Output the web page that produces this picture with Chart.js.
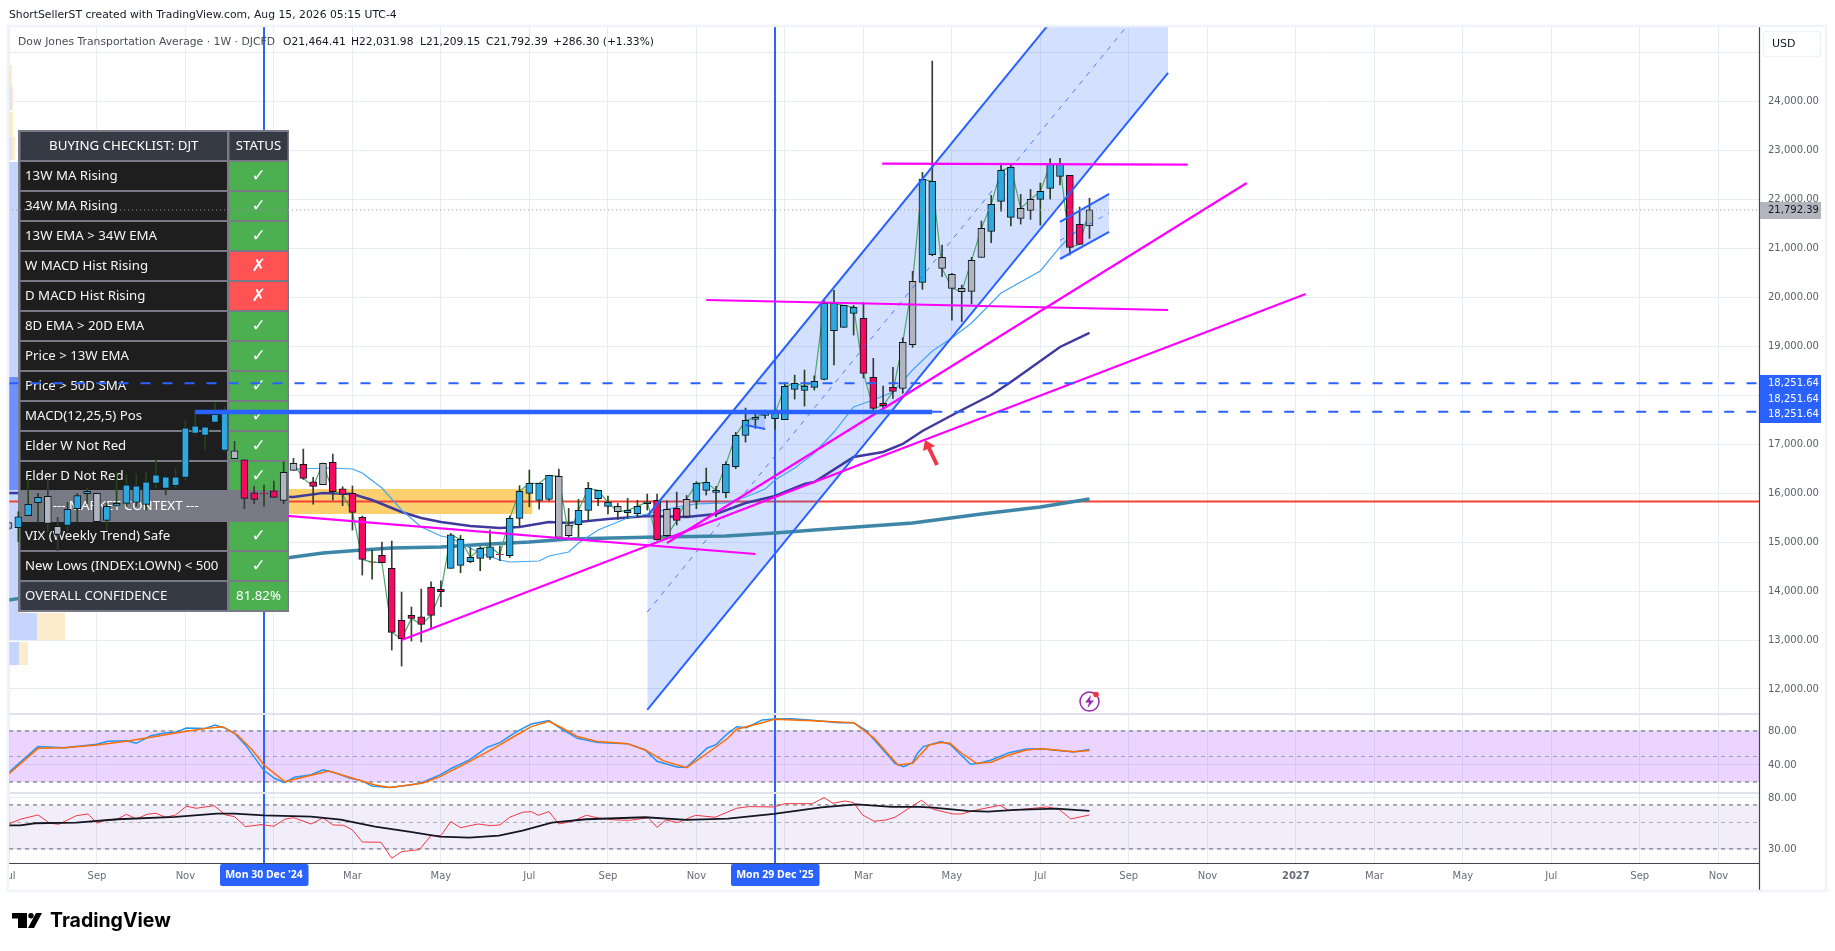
<!DOCTYPE html>
<html><head><meta charset="utf-8">
<style>html,body{margin:0;padding:0;background:#fff;overflow:hidden}canvas{display:block}</style>
<script src="https://cdn.jsdelivr.net/npm/chart.js@4"></script></head>
<body><canvas id="c" width="1835" height="951"></canvas>
<script>
// ---- weekly candles: week number counted from Mon 30 Dec 2024 ----
const firstWeek=-26;
const kinds=["G","BBB","GG","BBB","G","BBBBBBBBBBBBB","G","RR","D","R","GG","RR","G","RRRR","D","RRRRRRR","BBBBB","D","BBBBB","GG","BBBB","G","BBB","R","G","R","G","BBBBBBBBBBBBBBBBB","RRRR","GG","BB","GGGGG","BBB","GG","BBB","RR","G"].join('');
const opens=[15283,15297,15542,15808,15385,15324,15344,15685,15992,15419,15446,15753,15794,15814,15773,16203,16101,16155,16325,17225,17184,17450,16877,16870,16686,16012,15998,16053,15855,16468,16591,16236,16175,16632,16093,15998,15507,14601,14731,14465,13402,13504,13477,14077,14036,14465,14526,14601,14669,14690,14744,14724,15487,15998,15855,15875,15099,15351,15358,15651,15889,15732,15732,15603,15583,15787,15855,15671,15692,15528,15835,16060,16019,16012,16543,17184,17511,17592,17524,17504,18124,18103,18165,18329,19323,19391,19678,19575,18370,17838,18165,18145,19037,20311,20877,20822,20475,20189,20127,20822,21354,21967,21640,21619,21783,22008,22232,22478,22498,21497,21464];
const closes=[15399,15521,15773,15917,15937,15160,15671,15951,16039,15998,15733,15794,16175,16155,16237,16380,16339,16339,17340,17381,17361,17613,17633,16707,15896,15876,15992,15917,16428,16612,16304,16141,16611,16032,15977,15610,14649,14594,14581,13157,13027,13443,13320,13504,13988,15153,15058,14690,14874,14908,14751,15487,16039,16202,16202,16366,16345,15133,15651,16100,16060,15814,15623,15651,15732,15828,15051,15133,15446,15876,16203,16223,16060,16591,17184,17490,17552,17633,17633,18185,18246,18185,18287,19882,19882,19841,19800,18451,17736,17790,18083,19085,20332,22416,22376,20597,20189,20120,20761,21415,21905,22600,22662,21824,22008,22171,22723,22723,21027,21088,21792];
const highs=[15420,15624,16291,15998,16291,15508,15814,15998,16100,15998,15794,16421,16373,16393,16441,16680,16339,16509,17497,17702,17361,17838,17770,17061,16686,16148,16169,16250,16639,16714,16904,16325,16611,16802,16134,16148,15535,14840,15003,15024,13981,13675,14043,14192,14213,15180,15139,14887,14908,15249,14921,15535,16155,16475,16202,16366,16495,15692,15876,16223,16060,15944,15794,15896,15855,15985,15985,15848,16025,15957,16237,16516,16141,16645,17245,17742,17661,17701,17701,18260,18417,18519,18400,19937,20148,19841,19841,19902,18758,18192,18574,19180,20536,22559,24835,21074,20495,20257,20822,21565,22089,22743,22743,22110,22212,22341,22839,22846,22498,21851,22032];
const lows=[15250,15010,15542,15406,15215,14827,15215,15419,15794,15419,15249,15739,15739,15739,15658,16121,15971,16114,16271,17191,16898,17450,16850,16707,15685,15787,15739,15917,15787,16468,16284,15780,16175,15862,15746,15249,14329,14247,14581,12796,12469,12980,12959,13218,13682,14465,14376,14581,14417,14649,14622,14690,15330,15725,15678,15848,15078,15112,15112,15453,15746,15576,15467,15487,15508,15657,15044,15112,15351,15521,15685,15964,15521,15910,16502,17047,17327,17531,17306,17504,17926,17783,18110,18315,18622,19391,19235,18356,17634,17634,17940,18043,18983,20168,20856,20427,19541,19507,19868,20822,21122,21769,21463,21503,21599,21483,22014,22301,20870,21088,21209];
const greyWickWeeks=[68];

// ---- moving averages: [week, value] vertices ----
const ma13=[[3,16497],[7,16517],[9,16497],[10,16415],[12,16108],[14,15659],[16,15311],[18,15127],[19,15087],[20,14985],[22,14780],[24,14637],[25,14596],[28,14616],[29,14718],[31,14800],[32,14985],[34,15250],[35,15332],[37,15495],[39,15577],[42,15720],[44,15782],[47,15802],[49,15925],[51,16088],[52,16272],[54,16517],[56,16824],[58,17253],[60,17764],[62,17907],[64,18071],[66,18520],[68,18909],[70,19175],[72,19481],[74,19890],[75,20094],[79,20544],[81,21035],[82,21239],[84,21586]];
const ma34=[[-26,16006],[3,15925],[6,16006],[9,15986],[11,15863],[14,15618],[16,15495],[18,15414],[21,15332],[24,15291],[26,15311],[29,15414],[31,15393],[35,15475],[39,15536],[43,15516],[46,15577],[49,15802],[52,15945],[55,16190],[56,16231],[60,16742],[63,16844],[65,17008],[67,17274],[71,17703],[74,18009],[76,18275],[81,18991],[84,19277]];
const ma200=[[-26,13819],[3,14698],[6,14780],[10,14841],[13,14882],[18,14902],[23,14964],[27,15005],[31,15066],[40,15107],[47,15127],[52,15189],[56,15250],[66,15393],[73,15577],[79,15720],[84,15884]];

// ---- oscillators ----
const stochK=[[-26,31],[-23,61.6],[-20.3,60.4],[-17,64.3],[-15.9,67.9],[-14,68.6],[-13,65.5],[-11.5,74.5],[-10.1,77.7],[-9,78.4],[-7.9,83.5],[-6,82.8],[-5,87.1],[-3.9,83.1],[-3,77.3],[-1.9,63.6],[0,33.4],[1.1,24],[2.1,19.3],[3.1,25.5],[4.8,28.6],[6,34.2],[7.2,31],[8.7,24.7],[9.9,21.6],[11,15.3],[12.8,13.4],[14.9,16.5],[16.1,19.3],[17.9,28.3],[19.1,36.1],[20.9,45.9],[22.7,60.8],[24,66.3],[25.7,79.2],[27.2,88.2],[29,92.2],[30.4,81.2],[31.9,71.4],[34,66.3],[37,65.1],[38.8,57.7],[40,44.3],[42.1,37.3],[43,37.3],[45.1,60],[46,64],[47.2,77.3],[48.1,85.1],[49.1,83.9],[50.7,93],[51.9,94.1],[53.7,94.5],[55.8,92.6],[58.5,89.8],[60,89.8],[61.2,81.2],[62.7,61.6],[64.2,42],[65.1,38.1],[66,42.8],[66.5,53.8],[67.1,61.6],[68.9,67.5],[69.8,64.3],[71.9,40.8],[72.8,42],[74,45.9],[75.8,54.5],[77.6,58.8],[79.1,59.2],[80.6,57.3],[82.4,55.3],[84,58.1]];
const stochD=[[-26,29],[-23,59.6],[-20.3,60.4],[-17,63.5],[-14,67.9],[-11.5,72.6],[-9,77.7],[-6,82.8],[-4.2,85.1],[-2.7,75.3],[-1.2,57.7],[0,40],[2.1,20.4],[4.8,27.9],[6.6,33],[8.7,25.5],[11.3,16.5],[12.8,13.4],[16.1,18.5],[17.9,26.3],[20.9,44],[24,63.6],[25.7,75.3],[27.2,85.1],[29,91.4],[30.4,83.2],[31.9,73.4],[34,67.5],[37,65.1],[38.8,57.7],[40.6,45.1],[43,36.9],[45.1,53.8],[47.2,71.4],[48.1,82],[50.7,89.8],[51.9,93.7],[55.8,92.2],[60,89.8],[62.1,71.4],[64.5,40],[66,42],[67.7,63.6],[68.9,66.3],[69.8,65.5],[71,53.8],[72.5,42],[74,43.2],[75.8,51.8],[77.6,57.7],[79.1,59.2],[82.4,55.7],[84,56.9]];
const mfi=[[-26,48.5],[-24.8,53.1],[-23,57.7],[-21.8,49.2],[-20.9,48.2],[-19.1,56.9],[-17.9,58.8],[-17,49.2],[-16.1,52.4],[-15.1,52.4],[-14,58.4],[-13,53.4],[-11.9,58.4],[-11,59.6],[-10,55.2],[-9,57.7],[-7.9,68.2],[-6.9,65.6],[-5.1,69],[-3.9,57.7],[-3,55.9],[-1.9,46.1],[-0.3,47.9],[1,46.4],[2.1,53.1],[3,54.8],[4.8,48.5],[6,54.5],[7,47.6],[8.1,47.3],[9,43.2],[10,34.3],[11.9,34.1],[13,25.1],[14,28.5],[15.8,29.6],[17,38.8],[18,38.8],[19,50.8],[20,45.2],[21.8,48.5],[23,47],[24,47.6],[25,55.2],[26.3,60.7],[27.2,61.5],[27.9,57.3],[29,61.5],[30,48.5],[31.3,50.8],[32.8,57.3],[34,54.5],[35.8,52.4],[37.3,52.1],[39.1,54.8],[40,45.5],[40.9,52.4],[42.1,49.8],[43.9,57.3],[45.9,55.2],[48.1,65.6],[49.3,67.7],[51.9,67.3],[53,71.7],[55.8,71.7],[57,80.5],[57.9,72.2],[59.1,75.5],[60,73.1],[60.9,57.7],[62.1,51.1],[63.3,52.4],[64.2,55.2],[66.9,76.5],[68.1,64.3],[70.1,58.8],[71,58.8],[72.2,62.7],[74.9,69.5],[75.8,62.7],[79.7,67.3],[80.9,64.3],[82.1,53.4],[84,57.7]];
const mfiAvg=[[-26,47.3],[-24.8,47.3],[-23.3,49.2],[-19.1,49.8],[-14.9,53.1],[-9,55.5],[-4.8,59.2],[-3,59.2],[0,57.3],[4.8,55.9],[7.8,52.7],[11.3,46.1],[14.9,41.6],[17.9,38],[20.9,37.3],[23.9,38.8],[26.3,42.7],[29.3,49.8],[32.8,53.1],[38.8,55.2],[43,52.4],[47.2,53.8],[51.9,58.8],[56.7,66.8],[60.3,70.8],[63.9,67.3],[66.7,67.3],[68.1,66.4],[71.6,62.3],[73.7,61.5],[76.4,63.5],[80.6,65.2],[84,62.3]];

// ---- drawing tools: end points as [week, price] ----
const channelTop=[[39,15536],[92,28577]];
const channelBottom=[[39,11571],[92,24591]];
const channelMid=[[39,13574],[92,26574]];
const smallTop=[[81,21546],[86,22118]];
const smallBottom=[[81,20789],[86,21341]];
const smallMid=[[81,21168],[86,21730]];
const tinyTop=[[49,17662],[51,17621]];
const tinyBottom=[[49,17396],[51,17315]];
const trendA=[[62.9,22737],[94,22717]];
const trendB=[[45,19951],[92,19747]];
const trendC=[[14,13002],[106,20074]];
const trendD=[[41,14984],[100,22343]];
const trendE=[[2.4,15540],[50,14759]];
const heavyLevel=[[-7,17680],[68,17680]];
const heavyLevel2=[[-7,17640],[68,17640]];
const level1=[[-26,18251.64],[152.2,18251.64]];
const level2=[[68,17668],[152.2,17668]];
const lastClose=21792.39, supportLevel=15833;
const zoneBox={from:-10,to:27.3,top:16088,bottom:15577};
const crosshairWeeks=[0,52], crosshairLabels=["Mon 30 Dec '24","Mon 29 Dec '25"];
const priceLabels=["18,251.64","18,251.64","18,251.64"];
// volume profile rows: top price, bottom price, blue px, beige px
const profile=[[24755,24305,1,2],[24305,23835,3,1],[23794,23283,1,3],[23283,22813,3,3],[22772,21382,9,2],[21382,19951,9,6],[19951,18377,9,9],[18377,16068,9,9],[16068,13553,9,9],[13553,13002,28,28],[12961,12491,10,9]];

// ---- axes ----
const priceTicks=[25000,24000,23000,22000,21000,20000,19000,18000,17000,16000,15000,14000,13000,12000];
const stochTicks=[40,80], mfiTicks=[30,80];
const xTickWeeks=[-25.9,-17,-8,1,9,18,27,35,44,53,61,70,79,88,96,105,113,122,131,140,148];
const xTickLabels=["Jul","Sep","Nov","","Mar","May","Jul","Sep","Nov","","Mar","May","Jul","Sep","Nov","2027","Mar","May","Jul","Sep","Nov"];

// ---- checklist ----
const tableHead=["BUYING CHECKLIST: DJT","STATUS"];
const rowNames=["13W MA Rising","34W MA Rising","13W EMA > 34W EMA","W MACD Hist Rising","D MACD Hist Rising","8D EMA > 20D EMA","Price > 13W EMA","Price > 50D SMA","MACD(12,25,5) Pos","Elder W Not Red","Elder D Not Red","--- MARKET CONTEXT ---","VIX (Weekly Trend) Safe","New Lows (INDEX:LOWN) < 500","OVERALL CONFIDENCE"];
const rowStatus=["✓","✓","✓","✗","✗","✓","✓","✓","✓","✓","✓","","✓","✓","81.82%"];

const pts=a=>a.map(p=>({x:p[0],y:p[1]}));
const weeks=kinds.split('').map((_,i)=>firstWeek+i);
const bodyColor={B:'#2ea9df',R:'#f7095f',G:'#b2b5be',D:'#f7095f'};
const wickColor={B:'#24451a',R:'#3a3a3a',G:'#3a3a3a',D:'#24451a'};
const line=(data,color,w,order,extra)=>Object.assign({type:'line',data:pts(data),borderColor:color,backgroundColor:'transparent',borderWidth:w,pointRadius:0,tension:0,order,yAxisID:'y',fill:false},extra||{});
const BLUE='#2962ff',MAG='#ff00ff';
const tickFont={family:'"DejaVu Sans"',size:10};
const GRID='#e6edf3';
const datasets=[
 line(channelTop,'transparent',0,90,{fill:'+1',backgroundColor:'rgba(41,98,255,.2)'}),
 line(channelBottom,'transparent',0,90),
 line(smallTop,'transparent',0,90,{fill:'+1',backgroundColor:'rgba(41,98,255,.2)'}),
 line(smallBottom,'transparent',0,90),
 line(tinyTop,'transparent',0,90,{fill:'+1',backgroundColor:'rgba(41,98,255,.2)'}),
 line(tinyBottom,'transparent',0,90),
 line(ma200,'#3d86a8',3.5,80),
 line(ma34,'#3f3a9e',2.5,79),
 line(ma13,'#42a5f5',1.2,78),
 line(weeks.slice(29).map((w,i)=>[w,closes[i+29]]),'#4fa56a',1.2,77),
 {type:'bar',label:'wicks',order:60,yAxisID:'y',grouped:false,barThickness:1,borderWidth:0,backgroundColor:kinds.split('').map((c,i)=>greyWickWeeks.includes(weeks[i])?'#3a3a3a':wickColor[c]),data:weeks.map((w,i)=>({x:w,y:[lows[i],highs[i]]}))},
 {type:'bar',label:'bodies',order:59,yAxisID:'y',grouped:false,barThickness:7,borderWidth:1,borderSkipped:false,borderColor:'#0c1a20',backgroundColor:kinds.split('').map(c=>bodyColor[c]),data:weeks.map((w,i)=>({x:w,y:[opens[i],closes[i]]}))},
 line(channelMid,BLUE,1,40,{borderDash:[5,6],borderColor:'rgba(41,98,255,.8)'}),
 line(smallMid,BLUE,1,40,{borderDash:[5,6],borderColor:'rgba(41,98,255,.7)'}),
 line(channelTop,BLUE,2,39),line(channelBottom,BLUE,2,39),
 line(smallTop,BLUE,2,39),line(smallBottom,BLUE,2,39),
 line(tinyTop,BLUE,2,39),line(tinyBottom,BLUE,2,39),
 line(trendA,MAG,2.2,35),line(trendB,MAG,2.2,35),line(trendC,MAG,2.2,35),line(trendD,MAG,2.2,35),line(trendE,MAG,2.2,35),
 line(heavyLevel,BLUE,2.5,30),line(heavyLevel2,BLUE,2.5,30),
 line(level1,BLUE,2,20,{borderDash:[10,12]}),line(level2,BLUE,2,20,{borderDash:[10,12]}),
 line(stochK,'#2196f3',1.5,12,{yAxisID:'yStoch'}),
 line(stochD,'#ff6d00',1.5,11,{yAxisID:'yStoch'}),
 line(mfi,'#f23645',1,12,{yAxisID:'yMfi'}),
 line(mfiAvg,'#131722',1.8,11,{yAxisID:'yMfi'}),
];

function hline(ctx,a,y,dash,color,w){ctx.save();ctx.strokeStyle=color;ctx.lineWidth=w||1;ctx.setLineDash(dash||[]);ctx.beginPath();ctx.moveTo(a.left,y);ctx.lineTo(a.right,y);ctx.stroke();ctx.restore();}
function under(chart){
  const {ctx,chartArea:a,scales:s}=chart,Y=s.y,X=s.x;
  ctx.save();
  ctx.beginPath();ctx.rect(a.left,a.top,a.right-a.left,a.bottom-a.top);ctx.clip();
  let t=s.yStoch.getPixelForValue(80),b=s.yStoch.getPixelForValue(20);
  ctx.fillStyle='rgba(156,39,255,.2)';ctx.fillRect(a.left,t,a.right-a.left,b-t);
  hline(ctx,a,t,[4,4],'#5d606b');hline(ctx,a,b,[4,4],'#5d606b');hline(ctx,a,s.yStoch.getPixelForValue(50),[4,4],'rgba(120,123,134,.6)');
  t=s.yMfi.getPixelForValue(70);b=s.yMfi.getPixelForValue(30);
  ctx.fillStyle='rgba(126,87,194,.1)';ctx.fillRect(a.left,t,a.right-a.left,b-t);
  hline(ctx,a,t,[4,4],'#5d606b');hline(ctx,a,b,[4,4],'#5d606b');hline(ctx,a,s.yMfi.getPixelForValue(50),[4,4],'rgba(120,123,134,.6)');
  profile.forEach((r,i)=>{
    const y1=Y.getPixelForValue(r[0]),y2=Y.getPixelForValue(r[1]);
    ctx.fillStyle=i===7?'#6d8fff':(i<4?'#dbe4fb':'#c6d5fb');ctx.fillRect(a.left,y1,r[2],y2-y1);
    ctx.fillStyle='#fdeccb';ctx.fillRect(a.left+r[2],y1,r[3],y2-y1);
  });
  const zx=X.getPixelForValue(zoneBox.from),zr=X.getPixelForValue(zoneBox.to),zt=Y.getPixelForValue(zoneBox.top),zb=Y.getPixelForValue(zoneBox.bottom);
  ctx.fillStyle='#fcd06f';ctx.fillRect(zx,zt,zr-zx,zb-zt);
  hline(ctx,a,Y.getPixelForValue(supportLevel),null,'#f44336',2);
  ctx.strokeStyle=BLUE;ctx.lineWidth=2;
  crosshairWeeks.forEach(w=>{const x=X.getPixelForValue(w);ctx.beginPath();ctx.moveTo(x,a.top);ctx.lineTo(x,a.bottom);ctx.stroke();});
  ctx.restore();
}
function drawTable(ctx){
  const L=18,W=271,T=130,RH=30;
  ctx.save();
  ctx.fillStyle='#787b86';ctx.fillRect(L,T,W,RH*16+2);
  const cell=(x,y,w,h,c)=>{ctx.fillStyle=c;ctx.fillRect(x,y,w,h);};
  const lx=20.5,lw=206.5,rx=229.5,rw=58;
  ctx.textBaseline='middle';
  const F='13.25px "Noto Sans"';
  cell(lx,T+2,lw,28,'#363a45');cell(rx,T+2,rw,28,'#363a45');
  ctx.fillStyle='#fff';ctx.font=F;ctx.textAlign='center';
  ctx.fillText(tableHead[0],lx+lw/2,T+16);ctx.fillText(tableHead[1],rx+rw/2,T+16);
  rowNames.forEach((n,i)=>{
    const y=T+32+i*RH,h=28;
    if(i===11){ctx.fillStyle='#fff';ctx.font=F;ctx.textAlign='center';ctx.fillText(n,lx+lw/2+2,y+14.5);return;}
    const over=i===14,st=rowStatus[i];
    cell(lx,y,lw,h,over?'#363a45':'#1e1e1e');
    cell(rx,y,rw,h,st==='✗'?'#ff5252':'#4caf50');
    ctx.fillStyle='#f5f5f5';ctx.font=F;ctx.textAlign='left';ctx.fillText(n,25,y+14.5);
    ctx.fillStyle='#fff';ctx.textAlign='center';
    ctx.font=over?F:'bold 17px "DejaVu Sans"';ctx.fillText(st,rx+rw/2,y+14.5);
  });
  ctx.restore();
}
function over(chart){
  const {ctx,chartArea:a,scales:s}=chart,Y=s.y,X=s.x;
  ctx.save();
  const py=Y.getPixelForValue(lastClose);
  ctx.save();ctx.strokeStyle='#9598a1';ctx.lineWidth=1;ctx.setLineDash([1,3]);ctx.beginPath();ctx.moveTo(12,py);ctx.lineTo(a.right,py);ctx.stroke();ctx.restore();
  ctx.strokeStyle='#f23645';ctx.fillStyle='#f23645';ctx.lineWidth=4;ctx.beginPath();ctx.moveTo(937,465);ctx.lineTo(929,448);ctx.stroke();
  ctx.beginPath();ctx.moveTo(925,440);ctx.lineTo(923,451);ctx.lineTo(935,446);ctx.closePath();ctx.fill();
  ctx.strokeStyle='#9c27b0';ctx.lineWidth=1.5;ctx.beginPath();ctx.arc(1089.5,701.5,9.5,0,Math.PI*2);ctx.stroke();
  ctx.fillStyle='#9c27b0';ctx.beginPath();ctx.moveTo(1091,695);ctx.lineTo(1085,702.5);ctx.lineTo(1089,702.5);ctx.lineTo(1087.5,708);ctx.lineTo(1094,700.5);ctx.lineTo(1090,700.5);ctx.closePath();ctx.fill();
  ctx.fillStyle='#f23645';ctx.beginPath();ctx.arc(1096,694.5,2.8,0,Math.PI*2);ctx.fill();
  const sep=(x1,y1,x2,y2,c,w)=>{ctx.strokeStyle=c;ctx.lineWidth=w;ctx.beginPath();ctx.moveTo(x1,y1);ctx.lineTo(x2,y2);ctx.stroke();};
  sep(a.left,s.yStoch.top,a.right,s.yStoch.top,'#e0e3eb',2);
  sep(a.left,s.yMfi.top,a.right,s.yMfi.top,'#e0e3eb',2);
  sep(a.left,a.bottom+.5,a.right,a.bottom+.5,'#434651',1.2);
  sep(a.right+.5,a.top,a.right+.5,890,'#434651',1.2);
  ctx.fillStyle='#fff';ctx.fillRect(0,a.bottom+1,a.left-1,30);
  ctx.strokeStyle='#f0f3fa';ctx.lineWidth=2.5;ctx.strokeRect(8,26,1818,865);
  ctx.textBaseline='middle';ctx.textAlign='left';
  ctx.font='10.8px "DejaVu Sans"';
  ctx.fillStyle='#131722';ctx.fillText('ShortSellerST created with TradingView.com, Aug 15, 2026 05:15 UTC-4',9,15);
  ctx.fillStyle='#4a4d57';ctx.fillText('Dow Jones Transportation Average · 1W · DJCFD',18,42);
  ctx.fillStyle='#131722';ctx.font='10.7px "DejaVu Sans"';
  [['O21,464.41',283],['H22,031.98',351],['L21,209.15',420],['C21,792.39',486],['+286.30 (+1.33%)',553]].forEach(p=>ctx.fillText(p[0],p[1],42));
  crosshairWeeks.forEach((w,i)=>{const x=X.getPixelForValue(w);ctx.fillStyle=BLUE;ctx.beginPath();ctx.roundRect(x-44,864,88.5,22,2);ctx.fill();
    ctx.fillStyle='#fff';ctx.textAlign='center';ctx.font='bold 10.5px "Noto Sans"';ctx.fillText(crosshairLabels[i],x,875.5);});
  ctx.textAlign='left';
  ctx.fillStyle=BLUE;ctx.fillRect(a.right+1,375,61,48);
  ctx.fillStyle='#fff';ctx.font='10px "DejaVu Sans"';
  priceLabels.forEach((t,i)=>ctx.fillText(t,a.right+9,[383,399,414][i]));
  ctx.fillStyle='#b2b5be';ctx.fillRect(a.right+1,202,61,17);
  ctx.fillStyle='#131722';ctx.font='10px "DejaVu Sans"';ctx.fillText(lastClose.toLocaleString('en-US',{minimumFractionDigits:2}),a.right+9,210.5);
  ctx.fillStyle='#fff';ctx.strokeStyle='#f0f3fa';ctx.lineWidth=1.5;ctx.beginPath();ctx.roundRect(1763.5,31.5,57,25,3);ctx.fill();ctx.stroke();
  ctx.fillStyle='#131722';ctx.font='11px "DejaVu Sans"';ctx.fillText('USD',1772,44);
  ctx.fillStyle='#000';ctx.beginPath();ctx.rect(12,913,15,5.5);ctx.rect(18,913,9,15);ctx.fill();
  ctx.beginPath();ctx.arc(31,915.7,2.7,0,Math.PI*2);ctx.fill();
  ctx.beginPath();ctx.moveTo(36,913);ctx.lineTo(42,913);ctx.lineTo(34,928);ctx.lineTo(28,928);ctx.closePath();ctx.fill();
  ctx.font='bold 19.5px Inter';ctx.fillText('TradingView',50,921);
  ctx.restore();
}
const layers={id:'layers',
  beforeDatasetsDraw:under,
  beforeDatasetDraw(chart,args){if(chart.data.datasets[args.index].label==='wicks')drawTable(chart.ctx);},
  afterDatasetsDraw:over};
const yBase=(w,order,list,extra)=>Object.assign({position:'right',stack:'panes',stackWeight:w,weight:order,offset:false,
  grid:{color:GRID,drawTicks:false},border:{display:false},
  afterBuildTicks(s){s.ticks=list.map(v=>({value:v}));},
  afterFit(s){s.width=66;s.paddingTop=0;s.paddingBottom=0;}},extra);
new Chart(document.getElementById('c'),{type:'bar',data:{datasets},plugins:[layers],options:{
  responsive:false,animation:false,devicePixelRatio:1,
  layout:{padding:{left:9,right:10,top:27,bottom:61}},
  plugins:{legend:{display:false},tooltip:{enabled:false}},
  scales:{
    x:{type:'linear',offset:false,min:-25.95,max:152.13,position:'bottom',
      grid:{color:GRID,drawTicks:false,offset:false},border:{display:false},
      afterFit(s){s.height=27;s.paddingLeft=0;s.paddingRight=0;},
      afterBuildTicks(s){s.ticks=xTickWeeks.map(v=>({value:v}));},
      ticks:{autoSkip:false,maxRotation:0,padding:7,color:'#6a6d78',
        font:c=>c.tick&&xTickLabels[xTickWeeks.indexOf(c.tick.value)]==='2027'?{family:'"DejaVu Sans"',size:10,weight:'bold'}:tickFont,
        callback:v=>xTickLabels[xTickWeeks.indexOf(v)]}},
    y:yBase(687,0,priceTicks,{min:11489,max:25531,
      ticks:{padding:9,color:'#5d606b',font:tickFont,
        callback:v=>(v===25000||v===18000)?'':v.toLocaleString('en-US',{minimumFractionDigits:2})}}),
    yStoch:yBase(79,1,stochTicks,{min:7,max:100,
      ticks:{padding:9,color:'#5d606b',font:tickFont,callback:v=>v.toFixed(2)}}),
    yMfi:yBase(70,2,mfiTicks,{type:'logarithmic',min:22.9,max:88,
      ticks:{padding:9,color:'#5d606b',font:tickFont,callback:v=>v.toFixed(2)}})
  }}});
</script></body></html>
